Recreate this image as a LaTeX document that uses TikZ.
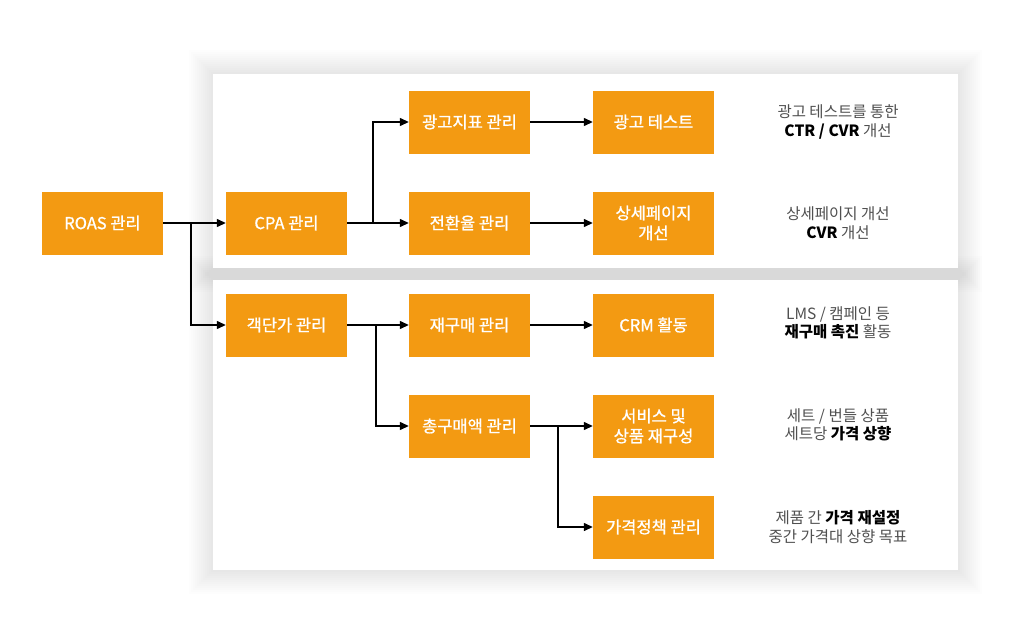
\documentclass[tikz,border=0pt]{standalone}
\usepackage{fontspec}
\setmainfont{Noto Sans CJK KR}
\newfontfamily\boxfont[FakeBold=1.1]{Noto Sans CJK KR}
\usepackage{tikz}
\usetikzlibrary{arrows.meta, positioning}
\definecolor{boxorange}{HTML}{F39A12}
\definecolor{notegray}{HTML}{505050}
\newcommand{\boldnote}[1]{\textcolor{black}{\textbf{#1}}}
\tikzset{
    kpi/.style={fill=boxorange, text=white, minimum width=121pt, minimum height=63pt, inner sep=0pt, align=center, font=\boxfont\fontsize{16.5}{20}\selectfont},
    note/.style={text=notegray, align=center, font=\fontsize{15.5}{18.5}\selectfont},
    link/.style={line width=1.3pt, -{Triangle[length=9pt,width=8pt]}},
    panel/.style={fill=white},
}

\begin{document}
\begin{tikzpicture}[x=1pt,y=-1pt]
                 \useasboundingbox (0,0) rectangle (1024,642);
                 % panels with soft shadow
                 \foreach \r in {2,4,...,24} {
                     \fill[black, opacity=0.007] (213-\r,74-\r) rectangle (958+\r,268+\r);
                     \fill[black, opacity=0.007] (213-\r,280-\r) rectangle (958+\r,570+\r);
                 }
                 \path[panel] (213,74) rectangle (958,268);
                 \path[panel] (213,280) rectangle (958,570);
                 % boxes
                 \node[kpi] (roas) at (102.5,223) {ROAS 관리};
                 \node[kpi] (cpa) at (286.5,223) {CPA 관리};
                 \node[kpi] (ad) at (469.5,122) {광고지표 관리};
                 \node[kpi] (conv) at (469.5,223) {전환율 관리};
                 \node[kpi] (adtest) at (653.5,122) {광고 테스트};
                 \node[kpi] (detail) at (653.5,223) {상세페이지\\개선};
                 \node[kpi] (gaek) at (286.5,325) {객단가 관리};
                 \node[kpi] (rebuy) at (469.5,325) {재구매 관리};
                 \node[kpi] (crm) at (653.5,325) {CRM 활동};
                 \node[kpi] (total) at (469.5,426) {총구매액 관리};
                 \node[kpi] (svc) at (653.5,426) {서비스 및\\상품 재구성};
                 \node[kpi] (price) at (653.5,527) {가격정책 관리};
                 % notes
                 \node[note] (n1) at (838,122) {광고 테스트를 통한\\\boldnote{CTR / CVR} 개선};
                 \node[note] (n2) at (838,223) {상세페이지 개선\\\boldnote{CVR} 개선};
                 \node[note] (n3) at (838,323) {LMS / 캠페인 등\\\boldnote{재구매 촉진} 활동};
                 \node[note] (n4) at (838,425) {세트 / 번들 상품\\세트당 \boldnote{가격 상향}};
                 \node[note] (n5) at (838,527) {제품 간 \boldnote{가격 재설정}\\중간 가격대 상향 목표};
                 % links
                 \coordinate (s1) at (191,223);
                 \coordinate (s2) at (373,223);
                 \coordinate (s3) at (376,325);
                 \coordinate (s4) at (558,426);
                 \draw[link] (roas) -- (cpa);
                 \draw[link] (s1) |- (gaek);
                 \draw[link] (cpa) -- (conv);
                 \draw[link] (s2) |- (ad);
                 \draw[link] (ad) -- (adtest);
                 \draw[link] (conv) -- (detail);
                 \draw[link] (gaek) -- (rebuy);
                 \draw[link] (s3) |- (total);
                 \draw[link] (rebuy) -- (crm);
                 \draw[link] (total) -- (svc);
                 \draw[link] (s4) |- (price);
\end{tikzpicture}
\end{document}
